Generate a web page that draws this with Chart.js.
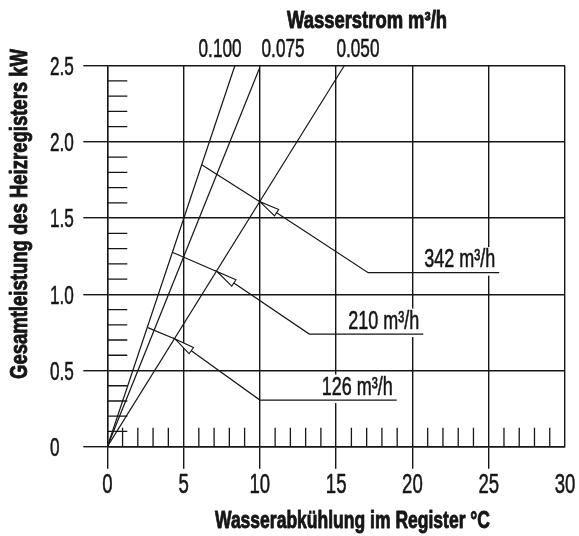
<!DOCTYPE html>
<html><head><meta charset="utf-8">
<script src="https://cdn.jsdelivr.net/npm/chart.js@4.4.1/dist/chart.umd.min.js"></script>
<style>html,body{margin:0;padding:0;background:#fff}#wrap{width:579px;height:536px}</style>
</head><body><div id="wrap"><canvas id="c" width="579" height="536"></canvas></div>
<script>
// ---- data ----
const xTickLabels = ['0', '5', '10', '15', '20', '25', '30'];
const yTickLabels = ['0', '0.5', '1.0', '1.5', '2.0', '2.5'];

const flowLabels = ['0.100', '0.075', '0.050'];
const flowEndX = [8.36, 9.96, 15.53];
const flowEndY = [2.5, 2.48, 2.5];

const airLabels = ['342 m³/h', '210 m³/h', '126 m³/h'];
const leaderStartX = [6.19, 4.26, 2.65];
const leaderStartY = [1.85, 1.276, 0.781];
const leaderTipX = [10.0, 7.21, 4.44];
const leaderTipY = [1.608, 1.148, 0.707];
const leaderKneeX = [17.10, 13.24, 10.0];
const leaderKneeY = [1.142, 0.739, 0.306];
const leaderEndX = [25.69, 20.71, 18.97];

const titleTop = 'Wasserstrom m³/h';
const titleX = 'Wasserabkühlung im Register °C';
const titleY = 'Gesamtleistung des Heizregisters kW';

// ---- layout (not data) ----
const flowLabelX = [7.39, 11.52, 16.43];
const INK = '#161616';
const FONT = '"Liberation Sans", Arial, sans-serif';

Chart.defaults.font.family = FONT;
Chart.defaults.color = INK;

const datasets = [];
flowLabels.forEach((lab, i) => {
  datasets.push({
    label: lab,
    data: [{x: 0, y: 0}, {x: flowEndX[i], y: flowEndY[i]}],
    showLine: true, pointRadius: 0, borderColor: INK, borderWidth: 1.2, fill: false
  });
});
airLabels.forEach((lab, i) => {
  datasets.push({
    label: lab,
    data: [
      {x: leaderStartX[i], y: leaderStartY[i]},
      {x: leaderTipX[i], y: leaderTipY[i]},
      {x: leaderKneeX[i], y: leaderKneeY[i]},
      {x: leaderEndX[i], y: leaderKneeY[i]}
    ],
    showLine: true, pointRadius: 0, borderColor: INK, borderWidth: 1.2, fill: false, tension: 0
  });
});

// condensed text helper: horizontal scale factor sx
function fontStr(size, bold) { return (bold ? 'bold ' : '') + size + 'px ' + FONT; }
function measure(ctx, text, size, bold) { ctx.font = fontStr(size, bold); return ctx.measureText(text).width; }
function drawText(ctx, text, x, y, size, bold, sx, align, baseline, rot) {
  ctx.save();
  ctx.translate(x, y);
  if (rot) ctx.rotate(rot);
  ctx.scale(sx, 1);
  ctx.font = fontStr(size, bold);
  ctx.textAlign = align || 'center';
  ctx.textBaseline = baseline || 'alphabetic';
  ctx.fillStyle = INK;
  ctx.strokeStyle = INK;
  ctx.lineWidth = bold ? 0.9 : 0.55;
  ctx.lineJoin = 'round';
  ctx.fillText(text, 0, 0);
  ctx.strokeText(text, 0, 0);
  ctx.restore();
}
let SX_NUM = 0.68, SX_ANN = 0.68;
function calib(ctx) {
  SX_NUM = 43 / measure(ctx, '0.100', 25, false);
  SX_ANN = 71 / measure(ctx, '210 m³/h', 25, false);
}

function labelBox(ctx, chart, i) {
  const xs = chart.scales.x, ys = chart.scales.y;
  const endPx = xs.getPixelForValue(leaderEndX[i]);
  const uy = ys.getPixelForValue(leaderKneeY[i]);
  const w = measure(ctx, airLabels[i], 25, false) * SX_ANN;
  const right = endPx - 4;
  return {right, left: right - w, base: uy - 5.5, uy, w};
}

const annot = {
  id: 'annot',
  beforeDatasetsDraw(chart) {
    const ctx = chart.ctx, xs = chart.scales.x, ys = chart.scales.y;
    calib(ctx);
    const x0 = xs.getPixelForValue(0), y0 = ys.getPixelForValue(0);
    ctx.save();
    ctx.strokeStyle = INK; ctx.lineWidth = 1.3;
    ctx.beginPath();
    for (let v = 1; v < 30; v++) {
      if (v % 5 === 0) continue;
      const px = xs.getPixelForValue(v);
      ctx.moveTo(px, y0); ctx.lineTo(px, y0 - 19);
    }
    for (let k = 1; k < 25; k++) {
      if (k % 5 === 0) continue;
      const py = ys.getPixelForValue(k / 10);
      ctx.moveTo(x0, py); ctx.lineTo(x0 + 20, py);
    }
    ctx.stroke();
    // white backgrounds behind labels
    ctx.fillStyle = '#fff';
    airLabels.forEach((lab, i) => {
      const b = labelBox(ctx, chart, i);
      ctx.fillRect(b.left - 3, b.base - 20, b.w + 6, b.uy - (b.base - 20) + 3);
    });
    ctx.restore();
  },
  afterDatasetsDraw(chart) {
    const ctx = chart.ctx, xs = chart.scales.x, ys = chart.scales.y;
    ctx.save();
    airLabels.forEach((lab, i) => {
      const tx = xs.getPixelForValue(leaderTipX[i]), ty = ys.getPixelForValue(leaderTipY[i]);
      const kx = xs.getPixelForValue(leaderKneeX[i]), ky = ys.getPixelForValue(leaderKneeY[i]);
      let dx = kx - tx, dy = ky - ty; const L = Math.hypot(dx, dy); dx /= L; dy /= L;
      const len = 20, hw = 3.8;
      const bx = tx + dx * len, by = ty + dy * len;
      ctx.beginPath();
      ctx.moveTo(tx, ty);
      ctx.lineTo(bx - dy * hw, by + dx * hw);
      ctx.lineTo(bx + dy * hw, by - dx * hw);
      ctx.closePath();
      ctx.fillStyle = '#fff'; ctx.fill();
      ctx.strokeStyle = INK; ctx.lineWidth = 1.1; ctx.stroke();
    });
    ctx.restore();
    airLabels.forEach((lab, i) => {
      const b = labelBox(ctx, chart, i);
      drawText(ctx, lab, b.right, b.base, 25, false, SX_ANN, 'right');
    });
  },
  afterDraw(chart) {
    const ctx = chart.ctx, xs = chart.scales.x, ys = chart.scales.y;
    // tick labels from the scales' own ticks
    xs.ticks.forEach(t => {
      const lab = xTickLabels[Math.round(t.value / 5)];
      drawText(ctx, lab, xs.getPixelForValue(t.value), 493, 27, false, SX_NUM, 'center');
    });
    ys.ticks.forEach(t => {
      const lab = yTickLabels[Math.round(t.value / 0.5)];
      drawText(ctx, lab, 50, ys.getPixelForValue(t.value) + 9.3, 25, false, SX_NUM, 'left');
    });
    flowLabels.forEach((lab, i) => {
      drawText(ctx, lab, xs.getPixelForValue(flowLabelX[i]), 57, 25, false, SX_NUM, 'center');
    });
    drawText(ctx, titleTop, 367, 28, 23, true, 160 / measure(ctx, titleTop, 23, true), 'center');
    drawText(ctx, titleX, 352.5, 528.3, 24, true, 275 / measure(ctx, titleX, 24, true), 'center');
    drawText(ctx, titleY, 27, 214, 23, true, 330 / measure(ctx, titleY, 23, true), 'center', 'alphabetic', -Math.PI / 2);
  }
};

new Chart(document.getElementById('c'), {
  type: 'scatter',
  data: {datasets},
  options: {
    responsive: false,
    animation: false,
    layout: {padding: {left: 50, right: 14, top: 65.7, bottom: 0}},
    plugins: {legend: {display: false}, tooltip: {enabled: false}},
    scales: {
      x: {
        type: 'linear', min: 0, max: 30,
        ticks: {stepSize: 5, display: false},
        grid: {
          color: INK, lineWidth: 1.4, tickLength: 22,
          tickColor: c => (c.tick && c.tick.value === 30) ? 'rgba(0,0,0,0)' : INK
        },
        border: {color: INK, width: 1.4},
        afterFit: s => { s.height = 89.3; }
      },
      y: {
        type: 'linear', min: 0, max: 2.5,
        ticks: {stepSize: 0.5, display: false},
        grid: {color: INK, lineWidth: 1.4, tickLength: 24},
        border: {color: INK, width: 1.4},
        afterFit: s => { s.width = 57.3; }
      }
    }
  },
  plugins: [annot]
});
</script></body></html>
